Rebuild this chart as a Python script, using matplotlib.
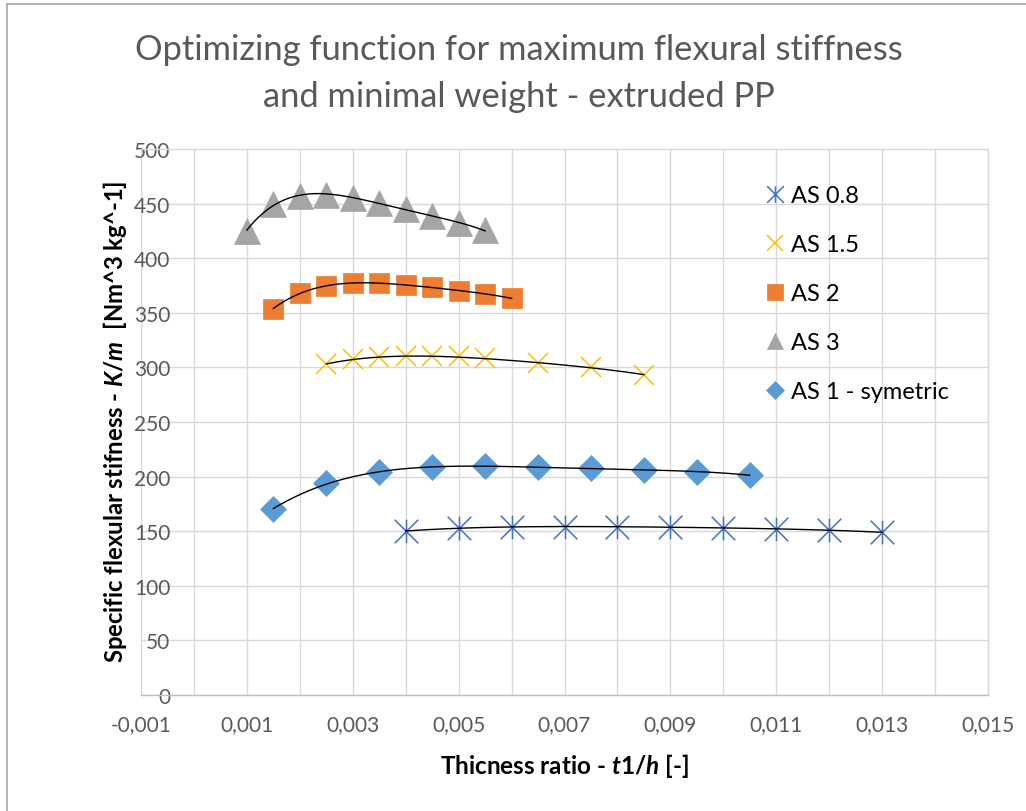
import numpy as np
import matplotlib
matplotlib.use("Agg")
import matplotlib.pyplot as plt
from matplotlib.path import Path
from matplotlib.lines import Line2D
from matplotlib.ticker import FixedLocator, FixedFormatter

plt.rcParams['font.family'] = ['Lato', 'DejaVu Sans']
plt.rcParams['mathtext.fontset'] = 'custom'
plt.rcParams['mathtext.it'] = 'Lato:italic:bold'
plt.rcParams['mathtext.rm'] = 'Lato:bold'
plt.rcParams['mathtext.bf'] = 'Lato:bold'

# ---- data: thickness ratio t1/h vs specific flexural stiffness K/m ----
as08_x = [0.004, 0.005, 0.006, 0.007, 0.008, 0.009, 0.010, 0.011, 0.012, 0.013]
as08_y = [150.2, 152.6, 154.1, 154.1, 154.0, 154.0, 152.6, 152.4, 150.8, 149.0]

as15_x = [0.0025, 0.003, 0.0035, 0.004, 0.0045, 0.005, 0.0055, 0.0065, 0.0075, 0.0085]
as15_y = [303.0, 307.7, 309.2, 310.0, 310.0, 310.0, 308.3, 303.7, 300.0, 293.3]

as2_x = [0.0015, 0.002, 0.0025, 0.003, 0.0035, 0.004, 0.0045, 0.005, 0.0055, 0.006]
as2_y = [353.8, 368.0, 374.7, 377.0, 377.0, 375.6, 373.5, 370.4, 367.0, 363.4]

as3_x = [0.001, 0.0015, 0.002, 0.0025, 0.003, 0.0035, 0.004, 0.0045, 0.005, 0.0055]
as3_y = [425.2, 449.6, 457.2, 458.0, 455.3, 450.7, 445.0, 438.5, 432.0, 425.4]

as1_x = [0.0015, 0.0025, 0.0035, 0.0045, 0.0055, 0.0065, 0.0075, 0.0085, 0.0095, 0.0105]
as1_y = [170.3, 194.1, 203.9, 208.5, 209.3, 209.0, 207.6, 206.3, 203.9, 201.5]

series_names = ["AS 0.8", "AS 1.5", "AS 2", "AS 3", "AS 1 - symetric"]

x_ticks = [-0.001, 0.0, 0.001, 0.002, 0.003, 0.004, 0.005, 0.006, 0.007,
           0.008, 0.009, 0.010, 0.011, 0.012, 0.013, 0.014, 0.015]
x_tick_labels = ["-0,001", "", "0,001", "", "0,003", "", "0,005", "", "0,007",
                 "", "0,009", "", "0,011", "", "0,013", "", "0,015"]
y_ticks = [0, 50, 100, 150, 200, 250, 300, 350, 400, 450, 500]

# Excel-style asterisk: an X with a vertical stroke
asterisk = Path(
    [(-0.5, -0.5), (0.5, 0.5), (-0.5, 0.5), (0.5, -0.5), (0.0, -0.5), (0.0, 0.5)],
    [Path.MOVETO, Path.LINETO, Path.MOVETO, Path.LINETO, Path.MOVETO, Path.LINETO],
)

styles = [
    dict(marker=asterisk, ms=17, mfc='none', mec='#4472C4', mew=1.1),
    dict(marker='x', ms=14.5, mfc='none', mec='#FFC000', mew=1.1),
    dict(marker='s', ms=14, mfc='#ED7D31', mec='#ED7D31', mew=0.5),
    dict(marker='^', ms=19, mfc='#A5A5A5', mec='#A5A5A5', mew=0.5),
    dict(marker='D', ms=12.8, mfc='#5B9BD5', mec='#5B9BD5', mew=0.5),
]
legend_sizes = [12, 12, 12, 12, 9]

W, H = 1026, 812
fig = plt.figure(figsize=(W / 100, H / 100), dpi=100)
ax = fig.add_axes([141 / W, 1 - 696 / H, (988 - 141) / W, (696 - 150) / H])

data = [(as08_x, as08_y), (as15_x, as15_y), (as2_x, as2_y),
        (as3_x, as3_y), (as1_x, as1_y)]

handles = []
for (xs, ys), st, name, lsz in zip(data, styles, series_names, legend_sizes):
    xs = np.asarray(xs)
    ys = np.asarray(ys)
    # polynomial trendline through each series
    coef = np.polyfit(xs, ys, 4)
    xf = np.linspace(xs.min(), xs.max(), 200)
    ax.plot(xf, np.polyval(coef, xf), color='black', lw=1.0, zorder=4)
    ax.plot(xs, ys, linestyle='none', zorder=3, **st)
    hst = dict(st)
    hst['ms'] = lsz
    handles.append(Line2D([], [], linestyle='none', label=name, **hst))

ax.set_xlim(-0.001, 0.015)
ax.set_ylim(0, 500)
ax.xaxis.set_major_locator(FixedLocator(x_ticks))
ax.xaxis.set_major_formatter(FixedFormatter(x_tick_labels))
ax.set_yticks(y_ticks)
ax.grid(True, color='#D9D9D9', lw=1.0, zorder=0)
ax.set_axisbelow(True)

for side in ['top', 'right']:
    ax.spines[side].set_color('#D9D9D9')
    ax.spines[side].set_linewidth(1.0)
ax.spines['bottom'].set_color('#BFBFBF')
ax.spines['bottom'].set_linewidth(1.0)
ax.spines['left'].set_position(('data', 0.0))
ax.spines['left'].set_visible(False)
ax.axvline(-0.001, color='#D9D9D9', lw=1.0, zorder=0)

ax.tick_params(axis='y', length=0, pad=17, labelsize=15, labelcolor='#595959')
ax.tick_params(axis='x', length=0, pad=14, labelsize=15, labelcolor='#595959')

ax.set_xlabel(r"Thicness ratio - $t1/h$ [-]", fontsize=17.5, fontweight='bold',
              labelpad=12)
fig.text(115 / W, 1 - 422 / H,
         r"Specific flexular stifness - $K/m$  [Nm^3 kg^-1]",
         fontsize=17.2, fontweight='bold', rotation=90, ha='center', va='center')

fig.text(519 / W, 1 - 50 / H, "Optimizing function for maximum flexural stiffness",
         fontsize=24.8, color='#595959', ha='center', va='center')
fig.text(519 / W, 1 - 97 / H, "and minimal weight - extruded PP",
         fontsize=24.8, color='#595959', ha='center', va='center')

fig.legend(handles=handles, loc='upper left',
           bbox_to_anchor=(764 / W, 1 - 186 / H), frameon=False,
           fontsize=17, handlelength=0.95, handletextpad=0.2,
           labelspacing=1.19, borderpad=0, borderaxespad=0, numpoints=1)

# chart area border (top and left edges)
fig.add_artist(Line2D([7 / W, 1.0], [1 - 5 / H, 1 - 5 / H],
                      transform=fig.transFigure, color='#A6A6A6', lw=1.2))
fig.add_artist(Line2D([7 / W, 7 / W], [0.0, 1 - 5 / H],
                      transform=fig.transFigure, color='#A6A6A6', lw=1.2))

fig.savefig("out.png", dpi=100, facecolor='white')
